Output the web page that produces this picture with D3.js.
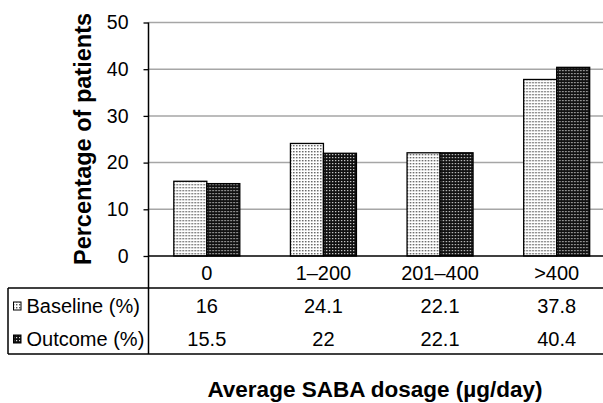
<!DOCTYPE html>
<html>
<head>
<meta charset="utf-8">
<script src="https://cdn.jsdelivr.net/npm/d3@7"></script>
<style>
  html, body { margin: 0; padding: 0; background: #fff; }
  svg { display: block; font-family: "Liberation Sans", Arial, sans-serif; }
</style>
</head>
<body>
<svg id="chart" width="603" height="403"></svg>
<script>
const categories = ["0", "1\u2013200", "201\u2013400", ">400"];
const seriesNames = ["Baseline (%)", "Outcome (%)"];
const baselineValues = [16, 24.1, 22.1, 37.8];
const outcomeValues = [15.5, 22, 22.1, 40.4];
const tableLabels = ["16", "24.1", "22.1", "37.8"];
const tableLabels2 = ["15.5", "22", "22.1", "40.4"];
const yTicks = [0, 10, 20, 30, 40, 50];

const seriesValues = [baselineValues, outcomeValues];
const seriesText = [tableLabels, tableLabels2];

const svg = d3.select("#chart");
const defs = svg.append("defs");

// patterns
const p1 = defs.append("pattern").attr("id", "patBase").attr("patternUnits", "userSpaceOnUse")
  .attr("width", 3).attr("height", 3);
p1.append("rect").attr("width", 3).attr("height", 3).attr("fill", "#ffffff");
p1.append("rect").attr("x", 1).attr("y", 1).attr("width", 1.4).attr("height", 1.4).attr("fill", "#555");

const p2 = defs.append("pattern").attr("id", "patOut").attr("patternUnits", "userSpaceOnUse")
  .attr("width", 3).attr("height", 3);
p2.append("rect").attr("width", 3).attr("height", 3).attr("fill", "#111");
p2.append("rect").attr("x", 1).attr("y", 1).attr("width", 1.2).attr("height", 1.2).attr("fill", "#ddd");

const fills = ["url(#patBase)", "url(#patOut)"];

const plotLeft = 148.5, plotRight = 615, plotTop = 22.5, plotBase = 256;
const tableTop = 288, tableBottom = 354, tableLeft = 8;

const x = d3.scaleBand().domain(categories).range([plotLeft, plotRight]).paddingInner(0).paddingOuter(0);
const xs = d3.scaleBand().domain(seriesNames).range([0, x.bandwidth()]).paddingInner(0).paddingOuter(0.767);
const y = d3.scaleLinear().domain([0, 50]).range([plotBase, plotTop]);

// gridlines
svg.append("g").selectAll("line").data(yTicks.filter(t => t > 0)).join("line")
  .attr("x1", plotLeft).attr("x2", 603)
  .attr("y1", d => y(d)).attr("y2", d => y(d))
  .attr("stroke", "#a6a6a6").attr("stroke-width", 1.5);

// bars
const groups = svg.append("g").selectAll("g").data(categories).join("g")
  .attr("transform", d => `translate(${x(d)},0)`);
groups.selectAll("rect").data((c, i) => seriesNames.map((s, k) => ({ s, k, v: seriesValues[k][i] })))
  .join("rect")
  .attr("x", d => xs(d.s))
  .attr("width", xs.bandwidth())
  .attr("y", d => y(d.v))
  .attr("height", d => plotBase - y(d.v))
  .attr("fill", d => fills[d.k])
  .attr("stroke", "#000").attr("stroke-width", 1.3);

// y axis
const yAxis = d3.axisLeft(y).tickValues(yTicks).tickSize(5).tickPadding(15).tickFormat(d3.format("d"));
const ya = svg.append("g").attr("transform", `translate(${plotLeft},0)`).call(yAxis);
ya.select(".domain").remove();
ya.selectAll(".tick line").attr("stroke", "#000").attr("stroke-width", 1.3);
ya.selectAll(".tick text").attr("font-size", 19.5).attr("fill", "#000").attr("font-family", "Liberation Sans, Arial, sans-serif");
svg.append("line").attr("x1", plotLeft).attr("x2", plotLeft).attr("y1", plotTop).attr("y2", tableBottom)
  .attr("stroke", "#000").attr("stroke-width", 1.5);

// x axis baseline
svg.append("line").attr("x1", plotLeft).attr("x2", 603).attr("y1", plotBase).attr("y2", plotBase)
  .attr("stroke", "#000").attr("stroke-width", 1.5);

// category labels
svg.append("g").selectAll("text").data(categories).join("text")
  .attr("x", d => x(d) + x.bandwidth() / 2).attr("y", 273)
  .attr("dy", "0.35em").attr("text-anchor", "middle").attr("font-size", 20).text(d => d);

// table lines
svg.append("line").attr("x1", tableLeft).attr("x2", 603).attr("y1", tableTop).attr("y2", tableTop)
  .attr("stroke", "#000").attr("stroke-width", 1.5);
svg.append("line").attr("x1", tableLeft).attr("x2", 603).attr("y1", tableBottom).attr("y2", tableBottom)
  .attr("stroke", "#000").attr("stroke-width", 1.5);
svg.append("line").attr("x1", tableLeft).attr("x2", tableLeft).attr("y1", tableTop).attr("y2", tableBottom)
  .attr("stroke", "#000").attr("stroke-width", 1.5);

const rowY = [306, 339];
seriesNames.forEach((s, k) => {
  svg.append("rect").attr("x", 13.5).attr("y", rowY[k] - 4).attr("width", 7.5).attr("height", 8)
    .attr("fill", fills[k]).attr("stroke", "#000").attr("stroke-width", 1);
  svg.append("text").attr("x", 26.5).attr("y", rowY[k]).attr("dy", "0.35em")
    .attr("font-size", 20).text(s);
  svg.append("g").selectAll("text").data(categories).join("text")
    .attr("x", d => x(d) + x.bandwidth() / 2).attr("y", rowY[k]).attr("dy", "0.35em")
    .attr("text-anchor", "middle").attr("font-size", 20)
    .text((d, i) => seriesText[k][i]);
});

// axis titles
svg.append("text").attr("transform", "translate(83,139) rotate(-90)")
  .attr("text-anchor", "middle").attr("dy", "0.35em")
  .attr("font-size", 23.5).attr("font-weight", "bold").text("Percentage of patients");
svg.append("text").attr("x", 375).attr("y", 396.5)
  .attr("text-anchor", "middle").attr("font-size", 22.5).attr("font-weight", "bold")
  .text("Average SABA dosage (\u00b5g/day)");
</script>
</body>
</html>
